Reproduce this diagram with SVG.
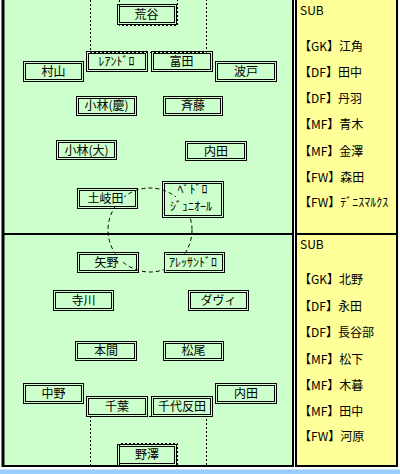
<svg xmlns="http://www.w3.org/2000/svg" width="400" height="474" viewBox="0 0 400 474">
<style>
.o,.i{fill:none;stroke:#000;stroke-width:1}
.bg{fill:#CCFFCC}
.t{font-family:"Noto Sans CJK JP","Noto Sans",sans-serif;font-size:12px;fill:#000;text-anchor:middle}
.s{font-family:"Noto Sans CJK JP","Noto Sans",sans-serif;font-size:12px;fill:#000}
.dot{fill:none;stroke:#000;stroke-width:1;stroke-dasharray:2 2}
.dash{fill:none;stroke:#000;stroke-width:1;stroke-dasharray:4 3}
.b{stroke:#000;fill:none}
</style>
<rect x="0" y="0" width="400" height="474" fill="#fff"/>
<rect x="3" y="0" width="290" height="466" fill="#CCFFCC"/>
<rect x="296" y="0" width="101" height="466" fill="#FFFF99"/>
<rect x="0" y="469.5" width="400" height="4.5" fill="#99CCFF"/>
<g id="frame">
<line class="b" x1="3" y1="0" x2="3" y2="467" stroke-width="3"/>
<line class="b" x1="293" y1="0" x2="293" y2="467" stroke-width="2"/>
<line class="b" x1="2" y1="466" x2="294" y2="466" stroke-width="2"/>
<line class="b" x1="2" y1="234" x2="294" y2="234" stroke-width="2"/>
<line class="b" x1="296" y1="0" x2="296" y2="467" stroke-width="2"/>
<line class="b" x1="397" y1="0" x2="397" y2="467" stroke-width="2"/>
<line class="b" x1="295" y1="466" x2="398" y2="466" stroke-width="2"/>
<line class="b" x1="295" y1="234" x2="398" y2="234" stroke-width="2"/>
</g>
<g id="connectors">
<path class="dot" d="M90.5,0 V52.5 H206.5 V0"/>
<path class="dot" d="M119.5,0 V25.5 H177.5 V0"/>
<path class="dot" d="M90.5,466 V416.5 H206.5 V466"/>
<path class="dot" d="M119.5,466 V443.5 H177.5 V466"/>
<circle class="dash" cx="150" cy="230" r="42"/>
</g>
<g id="n-araya"><rect class="o" x="117.5" y="4.5" width="59" height="20"/><rect class="i" x="119.5" y="6.5" width="55" height="16"/><text class="t" x="146.5" y="18.5">荒谷</text></g>
<g id="n-leandro"><rect class="o" x="86.5" y="51.5" width="61" height="20"/><rect class="i" x="88.5" y="53.5" width="57" height="16"/><text class="t" x="116.5" y="65.5">ﾚｱﾝﾄﾞﾛ</text></g>
<g id="n-tomita"><rect class="o" x="151.5" y="51.5" width="61" height="20"/><rect class="i" x="153.5" y="53.5" width="57" height="16"/><text class="t" x="181.5" y="65.5">富田</text></g>
<g id="n-murayama"><rect class="o" x="23.5" y="61.5" width="60" height="20"/><rect class="i" x="25.5" y="63.5" width="56" height="16"/><text class="t" x="53.5" y="75.5">村山</text></g>
<g id="n-hato"><rect class="o" x="215.5" y="61.5" width="61" height="20"/><rect class="i" x="217.5" y="63.5" width="57" height="16"/><text class="t" x="246" y="75.5">波戸</text></g>
<g id="n-kobayashi-kei"><rect class="o" x="76.5" y="96.5" width="60" height="19"/><rect class="i" x="78.5" y="98.5" width="56" height="15"/><text class="t" x="106.5" y="110">小林(慶)</text></g>
<g id="n-saito"><rect class="o" x="163.5" y="96.5" width="59" height="19"/><rect class="i" x="165.5" y="98.5" width="55" height="15"/><text class="t" x="193" y="110">斉藤</text></g>
<g id="n-kobayashi-dai"><rect class="o" x="56.5" y="140.5" width="60" height="19"/><rect class="i" x="58.5" y="142.5" width="56" height="15"/><text class="t" x="86.5" y="154.5">小林(大)</text></g>
<g id="n-uchida1"><rect class="o" x="185.5" y="141.5" width="61" height="19"/><rect class="i" x="187.5" y="143.5" width="57" height="15"/><text class="t" x="216" y="155.5">内田</text></g>
<g id="n-tokita"><rect class="o" x="77.5" y="188.5" width="60" height="20"/><rect class="i" x="79.5" y="190.5" width="56" height="16"/><rect class="bg" x="87" y="191" width="37" height="15"/><text class="t" x="105.5" y="202.5">土岐田</text></g>
<g id="n-pedro"><rect class="o" x="162.5" y="181.5" width="61" height="36"/><rect class="i" x="164.5" y="183.5" width="57" height="32"/><rect class="bg" x="176" y="184" width="33" height="13"/><rect class="bg" x="165" y="197" width="54" height="18"/><text class="t" x="192.5" y="193.5">ﾍﾟﾄﾞﾛ</text><text class="t" x="191" y="210.5">ｼﾞｭﾆｵｰﾙ</text></g>
<g id="n-yano"><rect class="o" x="77.5" y="252.5" width="61" height="20"/><rect class="i" x="79.5" y="254.5" width="57" height="16"/><rect class="bg" x="82" y="255" width="41" height="15"/><text class="t" x="106.5" y="266.5">矢野</text></g>
<g id="n-alessandro"><rect class="o" x="164.5" y="252.5" width="60" height="20"/><rect class="i" x="166.5" y="254.5" width="56" height="16"/><rect class="bg" x="165" y="255" width="57" height="15"/><text class="t" x="193" y="266.5">ｱﾚｯｻﾝﾄﾞﾛ</text></g>
<g id="n-terakawa"><rect class="o" x="53.5" y="290.5" width="60" height="20"/><rect class="i" x="55.5" y="292.5" width="56" height="16"/><text class="t" x="83.5" y="304.5">寺川</text></g>
<g id="n-davi"><rect class="o" x="188.5" y="290.5" width="60" height="20"/><rect class="i" x="190.5" y="292.5" width="56" height="16"/><text class="t" x="218.5" y="304.5">ダヴィ</text></g>
<g id="n-honma"><rect class="o" x="75.5" y="341.5" width="61" height="19"/><rect class="i" x="77.5" y="343.5" width="57" height="15"/><text class="t" x="106" y="355">本間</text></g>
<g id="n-matsuo"><rect class="o" x="163.5" y="341.5" width="60" height="19"/><rect class="i" x="165.5" y="343.5" width="56" height="15"/><text class="t" x="193.5" y="355">松尾</text></g>
<g id="n-nakano"><rect class="o" x="23.5" y="383.5" width="60" height="20"/><rect class="i" x="25.5" y="385.5" width="56" height="16"/><text class="t" x="53.5" y="397.5">中野</text></g>
<g id="n-chiba"><rect class="o" x="86.5" y="396.5" width="61" height="20"/><rect class="i" x="88.5" y="398.5" width="57" height="16"/><text class="t" x="117" y="410.5">千葉</text></g>
<g id="n-chiyotanda"><rect class="o" x="151.5" y="396.5" width="61" height="20"/><rect class="i" x="153.5" y="398.5" width="57" height="16"/><text class="t" x="182" y="410.5">千代反田</text></g>
<g id="n-uchida2"><rect class="o" x="215.5" y="383.5" width="61" height="20"/><rect class="i" x="217.5" y="385.5" width="57" height="16"/><text class="t" x="246" y="397.5">内田</text></g>
<g id="n-nozawa"><rect class="o" x="117.5" y="444.5" width="59" height="21"/><rect class="i" x="119.5" y="446.5" width="55" height="17"/><text class="t" x="147" y="459">野澤</text></g>
<g id="sub-top">
<text class="s" x="300" y="14.5">SUB</text>
<text class="s" x="299" y="50.5">【GK】江角</text>
<text class="s" x="299" y="76.5">【DF】田中</text>
<text class="s" x="299" y="102.5">【DF】丹羽</text>
<text class="s" x="299" y="128.5">【MF】青木</text>
<text class="s" x="299" y="155.5">【MF】金澤</text>
<text class="s" x="299" y="181.5">【FW】森田</text>
<text class="s" x="299" y="206.5">【FW】ﾃﾞﾆｽﾏﾙｸｽ</text>
</g>
<g id="sub-bottom">
<text class="s" x="300" y="248.5">SUB</text>
<text class="s" x="299" y="283.5">【GK】北野</text>
<text class="s" x="299" y="310.5">【DF】永田</text>
<text class="s" x="299" y="336.5">【DF】長谷部</text>
<text class="s" x="299" y="363.5">【MF】松下</text>
<text class="s" x="299" y="389.5">【MF】木暮</text>
<text class="s" x="299" y="415.5">【MF】田中</text>
<text class="s" x="299" y="440.5">【FW】河原</text>
</g>
</svg>
